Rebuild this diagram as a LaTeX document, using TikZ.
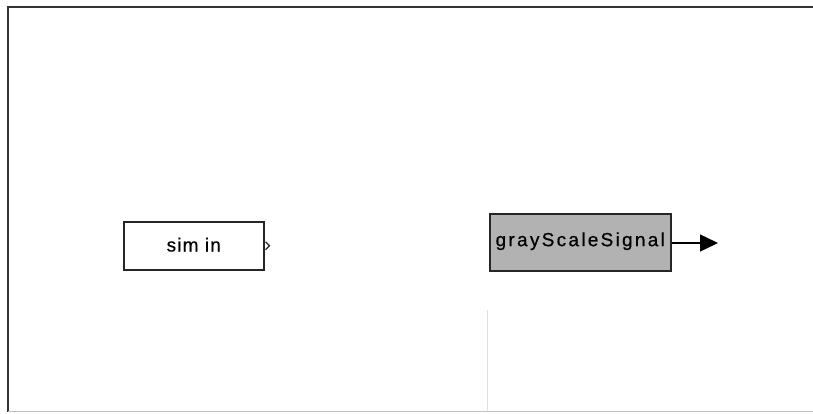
\documentclass[tikz,border=0pt]{standalone}
\usepackage{fontspec}
\setmainfont{Liberation Sans}
\newfontfamily\lblA[LetterSpace=6,FakeBold=0.6]{Liberation Sans}
\newfontfamily\lblB[LetterSpace=12,FakeBold=0.6]{Liberation Sans}
\usetikzlibrary{arrows.meta}
\begin{document}
\begin{tikzpicture}[x=1pt,y=-1pt,
  blk/.style={draw=black!85,line width=1.5pt,inner sep=0pt,anchor=north west},
  lblsim/.style={font=\lblA\fontsize{19}{21}\selectfont},
  lblgray/.style={font=\lblB\fontsize{19}{21}\selectfont},
  frame/.style={draw=black!80,line width=1.3pt}]
\useasboundingbox (0,0) rectangle (813,414);
\fill[white] (0,0) rectangle (813,414);
% outer frame
\draw[frame] (8,412) -- (8,7) -- (813,7);
\draw[black!25,line width=1pt] (8,411) -- (813,411);
\draw[black!12,line width=0.6pt] (487,310) -- (487,411);
% blocks
\node[blk,minimum width=140pt,minimum height=48pt] (simin) at (123,221) {};
\node[lblsim] (simintxt) at ([yshift=1pt]simin.center) {sim in};
\node[blk,fill=black!30,minimum width=181pt,minimum height=57pt] (gray) at (489,213) {};
\node[lblgray] (graytxt) at ([yshift=1pt]gray.center) {grayScaleSignal};
% port of simin
\coordinate (p) at (simin.east);
\draw[black!85,line width=1.2pt] ([xshift=1pt,yshift=-4pt]p) -- ([xshift=5pt]p) -- ([xshift=1pt,yshift=4pt]p);
% output arrow
\coordinate (out) at (718,243);
\draw[black,line width=1.4pt,-{Triangle[length=18pt,width=17pt]}] (gray.east |- out) -- (out);
\end{tikzpicture}
\end{document}
